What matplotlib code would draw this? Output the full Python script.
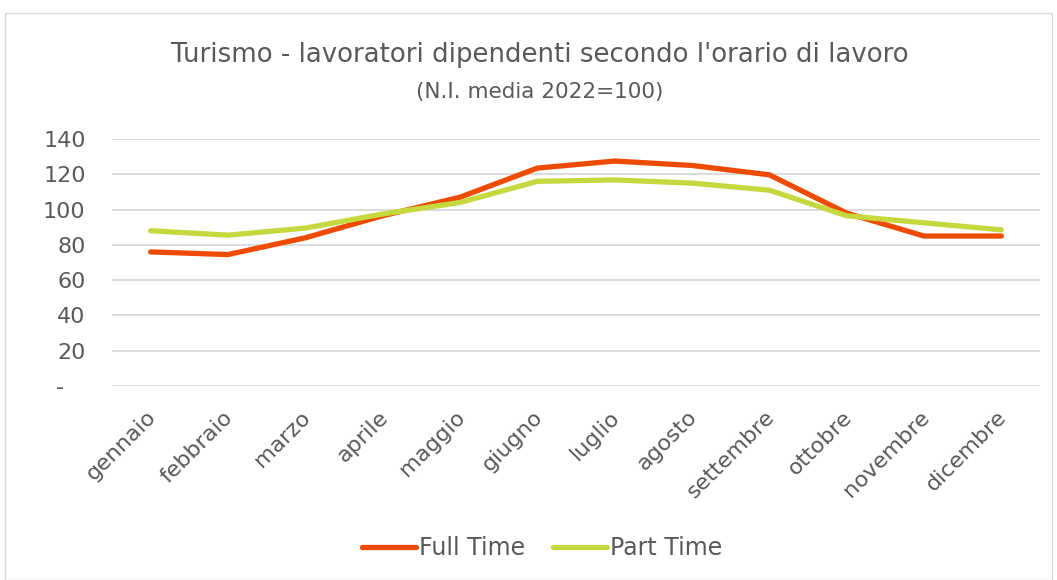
import matplotlib
matplotlib.use("Agg")
from matplotlib import pyplot as plt
from matplotlib.patches import Rectangle
import matplotlib.transforms as mtransforms

months = ["gennaio", "febbraio", "marzo", "aprile", "maggio", "giugno",
          "luglio", "agosto", "settembre", "ottobre", "novembre", "dicembre"]
full_time = [76, 74.5, 84, 96.5, 107, 123.5, 127.5, 125, 119.7, 98, 85, 85]
part_time = [88, 85.5, 89.5, 97.5, 104, 116, 116.8, 115, 111, 96.5, 92.5, 88.5]
y_ticks = [0, 20, 40, 60, 80, 100, 120, 140]
y_labels = ["-   ", "20", "40", "60", "80", "100", "120", "140"]

text_col = "#595959"
fig = plt.figure(figsize=(10.57, 5.8), dpi=100)
fig.patches.append(Rectangle((5/1057, 0), 1 - 10/1057, 1 - 13/580, transform=fig.transFigure,
                             fill=False, edgecolor="#d9d9d9", linewidth=1))

ax = fig.add_axes([112/1057, 1 - 386/580, (1040 - 112)/1057, (386 - 139)/580])
x = range(len(months))
ax.plot(x, full_time, color="#EE4B00", linewidth=3.8, solid_capstyle="round", label="Full Time", zorder=3)
ax.plot(x, part_time, color="#C5D93F", linewidth=3.8, solid_capstyle="round", label="Part Time", zorder=3)

ax.set_xlim(-0.5, 11.5)
ax.set_ylim(0, 140)
ax.set_yticks(y_ticks)
ax.set_yticklabels(y_labels)
ax.set_xticks(list(x))
ax.set_xticklabels(months, rotation=45, ha="right", rotation_mode="anchor")
ax.grid(axis="y", color="#d9d9d9", linewidth=1.3)
ax.set_axisbelow(True)
for s in ax.spines.values():
    s.set_visible(False)
ax.tick_params(length=0, labelsize=16, labelcolor=text_col)
ax.tick_params(axis="y", pad=19)
ax.tick_params(axis="x", pad=15)
shift = mtransforms.ScaledTranslation(-5/100, 0, fig.dpi_scale_trans)
for lbl in ax.get_xticklabels():
    lbl.set_transform(lbl.get_transform() + shift)

cx = 540/1057
fig.text(cx, 1 - 55/580, "Turismo - lavoratori dipendenti secondo l'orario di lavoro",
         ha="center", va="center", fontsize=18.7, color=text_col)
fig.text(cx, 1 - 92/580, "(N.I. media 2022=100)", ha="center", va="center",
         fontsize=15.5, color=text_col)

leg = fig.legend(loc="center", bbox_to_anchor=(542/1057, 1 - 548/580), ncol=2, frameon=False,
                 fontsize=17, handlelength=2.3, handletextpad=0.1, columnspacing=1.2)
for t in leg.get_texts():
    t.set_color(text_col)

fig.savefig("out.png", dpi=100)
